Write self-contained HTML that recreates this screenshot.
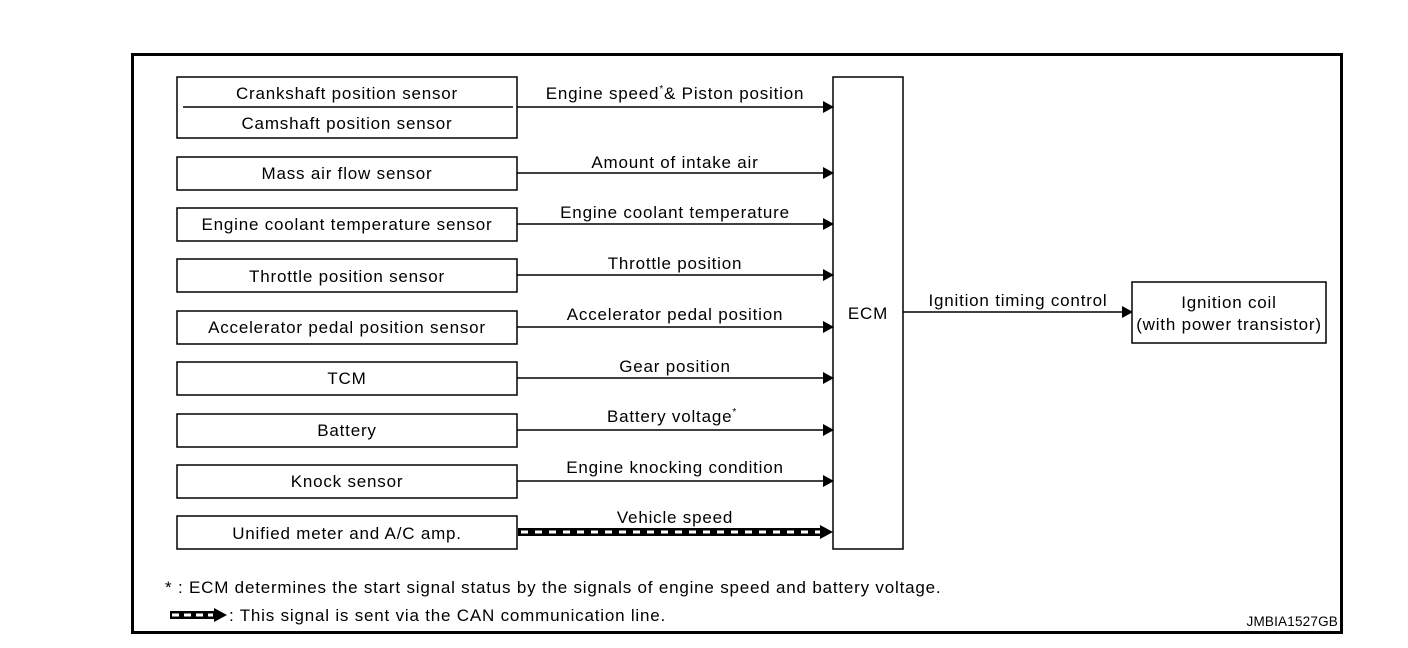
<!DOCTYPE html>
<html><head><meta charset="utf-8"><style>
html,body{margin:0;padding:0;background:#fff;}
svg{display:block;}
text{font-family:"Liberation Sans",Arial,sans-serif;font-size:17px;letter-spacing:0.8px;fill:#000;}
</style></head><body>
<svg width="1408" height="648" viewBox="0 0 1408 648" xmlns="http://www.w3.org/2000/svg">
<defs>
<marker id="a" markerWidth="12" markerHeight="12" refX="10" refY="6" orient="auto" markerUnits="userSpaceOnUse">
<path d="M0,0 L11,6 L0,12 z" fill="#000"/></marker>
</defs>
<rect x="132.5" y="54.5" width="1209" height="578" fill="none" stroke="#000" stroke-width="3"/>
<g fill="none" stroke="#000" stroke-width="1.5">
<rect x="177" y="77" width="340" height="61"/>
<line x1="183" y1="107" x2="513" y2="107"/>
<rect x="177" y="157" width="340" height="33"/>
<rect x="177" y="208" width="340" height="33"/>
<rect x="177" y="259" width="340" height="33"/>
<rect x="177" y="311" width="340" height="33"/>
<rect x="177" y="362" width="340" height="33"/>
<rect x="177" y="414" width="340" height="33"/>
<rect x="177" y="465" width="340" height="33"/>
<rect x="177" y="516" width="340" height="33"/>
<rect x="833" y="77" width="70" height="472"/>
<rect x="1132" y="282" width="194" height="61"/>
</g>
<g stroke="#000" stroke-width="1.5" marker-end="url(#a)">
<line x1="517" y1="107" x2="833" y2="107"/>
<line x1="517" y1="173" x2="833" y2="173"/>
<line x1="517" y1="224" x2="833" y2="224"/>
<line x1="517" y1="275" x2="833" y2="275"/>
<line x1="517" y1="327" x2="833" y2="327"/>
<line x1="517" y1="378" x2="833" y2="378"/>
<line x1="517" y1="430" x2="833" y2="430"/>
<line x1="517" y1="481" x2="833" y2="481"/>
<line x1="903" y1="312" x2="1132" y2="312"/>
</g>
<rect x="518" y="528" width="304" height="8" fill="#000"/>
<line x1="521" y1="532" x2="820" y2="532" stroke="#fff" stroke-width="3" stroke-dasharray="7,7"/>
<path d="M820,525 L833,532 L820,539 z" fill="#000"/>
<rect x="170" y="611" width="44" height="8" fill="#000"/>
<line x1="172" y1="615" x2="213" y2="615" stroke="#fff" stroke-width="3" stroke-dasharray="7,5"/>
<path d="M214,608 L227,615 L214,622 z" fill="#000"/>
<g text-anchor="middle">
<text x="347" y="99">Crankshaft position sensor</text>
<text x="347" y="129">Camshaft position sensor</text>
<text x="347" y="179">Mass air flow sensor</text>
<text x="347" y="230">Engine coolant temperature sensor</text>
<text x="347" y="282">Throttle position sensor</text>
<text x="347" y="333">Accelerator pedal position sensor</text>
<text x="347" y="384">TCM</text>
<text x="347" y="436">Battery</text>
<text x="347" y="487">Knock sensor</text>
<text x="347" y="539">Unified meter and A/C amp.</text>
<text x="675" y="99">Engine speed<tspan font-size="10" dy="-7">*</tspan><tspan dy="7">&amp; Piston position</tspan></text>
<text x="675" y="168">Amount of intake air</text>
<text x="675" y="218">Engine coolant temperature</text>
<text x="675" y="269">Throttle position</text>
<text x="675" y="320">Accelerator pedal position</text>
<text x="675" y="372">Gear position</text>
<text x="672" y="422">Battery voltage<tspan font-size="10" dy="-7">*</tspan></text>
<text x="675" y="473">Engine knocking condition</text>
<text x="675" y="523">Vehicle speed</text>
<text x="868" y="319">ECM</text>
<text x="1018" y="306">Ignition timing control</text>
<text x="1229" y="308">Ignition coil</text>
<text x="1229" y="330">(with power transistor)</text>
</g>
<text x="165" y="593">* : ECM determines the start signal status by the signals of engine speed and battery voltage.</text>
<text x="229" y="621">: This signal is sent via the CAN communication line.</text>
<text x="1338" y="626" text-anchor="end" style="font-size:13.5px;letter-spacing:0.2px">JMBIA1527GB</text>
</svg>
</body></html>
